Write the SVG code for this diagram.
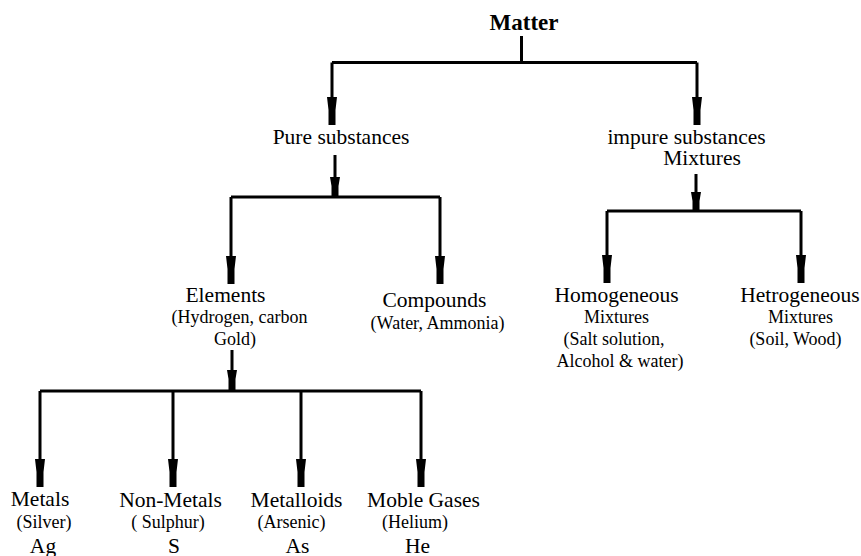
<svg xmlns="http://www.w3.org/2000/svg" xmlns:xlink="http://www.w3.org/1999/xlink" width="861" height="556" viewBox="0 0 861 556" font-family="'Liberation Serif', 'Times New Roman', Times, 'DejaVu Serif', serif">
<style>
text{font-family:'Liberation Serif','Times New Roman',Times,'DejaVu Serif',serif;fill:#000;text-anchor:middle}
.t{font-size:21.5px}
.s{font-size:18px}
.b{font-size:23px;font-weight:bold}
.ln{fill:none;stroke:#000;stroke-width:3}
.ah{fill:#000}
</style>
<defs>
<path id="al" class="ah" d="M-5,0 H5 L3.5,13 V28 H-3.5 V13 Z"/>
<path id="as" class="ah" d="M-5,0 H5 L3.5,9 V20 H-3.5 V9 Z"/>
</defs>
<rect width="861" height="556" fill="#fff"/>
<g id="connectors">
<path class="ln" d="M521.5,36 V62.5 M332,62.5 H697 M332,62.5 V100 M697,62.5 V100"/>
<use href="#al" x="332" y="97"/>
<use href="#al" x="697" y="97"/>
<path class="ln" d="M335,155 V197 M231,197 H440 M231,197 V258 M440,197 V258"/>
<use href="#as" x="335" y="177"/>
<use href="#al" x="231" y="256"/>
<use href="#al" x="440" y="256"/>
<path class="ln" d="M696,174 V211 M607,211 H801 M607,211 V258 M801,211 V258"/>
<use href="#as" x="696" y="192"/>
<use href="#al" x="607" y="255"/>
<use href="#al" x="801" y="255"/>
<path class="ln" d="M232,350 V391 M40,391 H421 M40,391 V460 M173,391 V460 M301,391 V460 M421,391 V460"/>
<use href="#as" x="232" y="370"/>
<use href="#al" x="40" y="459"/>
<use href="#al" x="173" y="459"/>
<use href="#al" x="301" y="459"/>
<use href="#al" x="421" y="459"/>
</g>
<g id="matter"><text class="b" x="524" y="30">Matter</text></g>
<g id="pure"><text class="t" x="341" y="144">Pure substances</text></g>
<g id="impure"><text class="t" x="686.5" y="144">impure substances</text><text class="t" x="702" y="165">Mixtures</text></g>
<g id="elements"><text class="t" x="225.5" y="302">Elements</text><text class="s" x="239.5" y="323">(Hydrogen, carbon</text><text class="s" x="235" y="345">Gold)</text></g>
<g id="compounds"><text class="t" x="434.5" y="307">Compounds</text><text class="s" x="437.5" y="329">(Water, Ammonia)</text></g>
<g id="homogeneous"><text class="t" x="616.5" y="302">Homogeneous</text><text class="s" x="616.5" y="323">Mixtures</text><text class="s" x="614" y="345">(Salt solution,</text><text class="s" x="620" y="367">Alcohol &amp; water)</text></g>
<g id="hetrogeneous"><text class="t" x="800" y="302">Hetrogeneous</text><text class="s" x="800.5" y="323">Mixtures</text><text class="s" x="795.5" y="345">(Soil, Wood)</text></g>
<g id="metals"><text class="t" x="40" y="506">Metals</text><text class="s" x="44" y="528">(Silver)</text><text class="t" x="43" y="553">Ag</text></g>
<g id="nonmetals"><text class="t" x="170.5" y="507">Non-Metals</text><text class="s" x="168" y="528">( Sulphur)</text><text class="t" x="174" y="553">S</text></g>
<g id="metalloids"><text class="t" x="296.5" y="507">Metalloids</text><text class="s" x="291.5" y="528">(Arsenic)</text><text class="t" x="297.5" y="553">As</text></g>
<g id="noblegases"><text class="t" x="423.5" y="507">Moble Gases</text><text class="s" x="415" y="528">(Helium)</text><text class="t" x="417.5" y="553">He</text></g>
</svg>
